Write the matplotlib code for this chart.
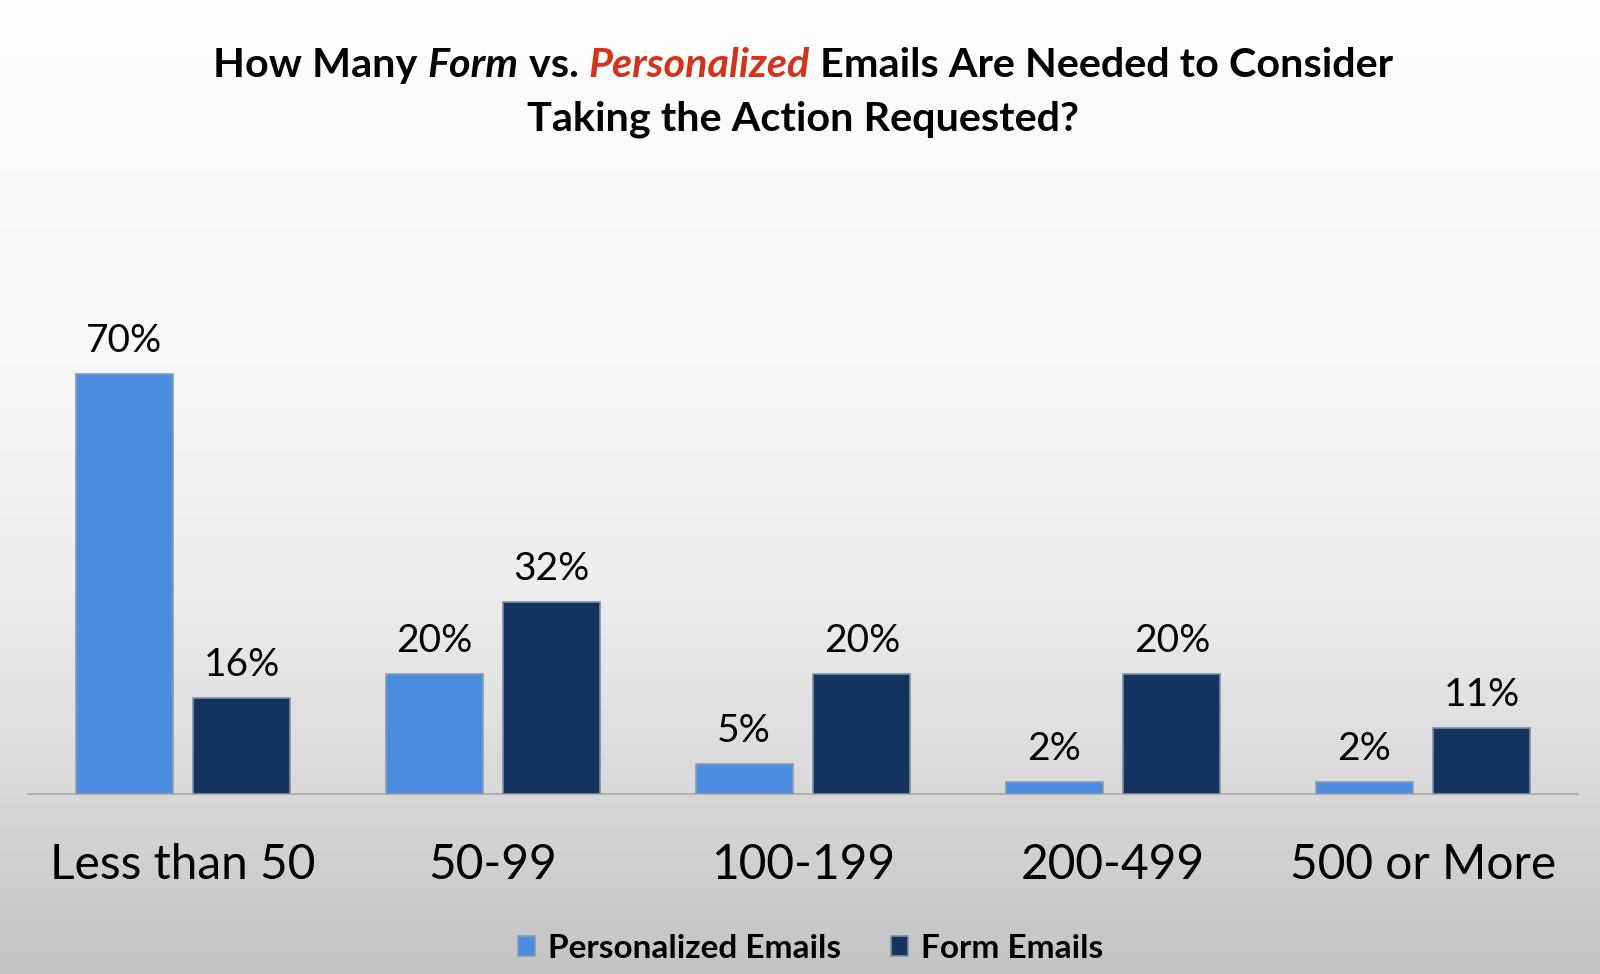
import numpy as np
import matplotlib
matplotlib.use("Agg")
import matplotlib.pyplot as plt
from matplotlib.colors import LinearSegmentedColormap

categories = ["Less than 50", "50-99", "100-199", "200-499", "500 or More"]
personalized = [70, 20, 5, 2, 2]
form = [16, 32, 20, 20, 11]
series_names = ["Personalized Emails", "Form Emails"]

FONT = "Lato"
C_PERS = "#4a8de0"
C_FORM = "#14335f"
C_RED = "#d2331b"

fig = plt.figure(figsize=(16, 9.74), dpi=100)

# background gradient
bg = fig.add_axes([0, 0, 1, 1], zorder=-10)
grad_cmap = LinearSegmentedColormap.from_list(
    "bg", [(0.0, "#c3c3c3"), (0.20, "#dadada"), (0.40, "#ededed"), (0.65, "#f8f8f8"), (1.0, "#fefefe")])
g = np.linspace(0, 1, 256).reshape(-1, 1)
bg.imshow(g, aspect="auto", cmap=grad_cmap, origin="lower", extent=[0, 1, 0, 1])
bg.set_axis_off()

ax = fig.add_axes([28 / 1600, 180 / 974, 1550 / 1600, 600 / 974])
ax.set_facecolor("none")
x = np.arange(len(categories))
w = 0.313
off = 0.19
b1 = ax.bar(x - off, personalized, w, color=C_PERS, edgecolor="#8a9bb0", linewidth=1.2, zorder=3)
b2 = ax.bar(x + off, form, w, color=C_FORM, edgecolor="#7f8ea3", linewidth=1.2, zorder=3)
ax.set_xlim(-0.5, len(categories) - 0.5)
ax.set_ylim(0, 100)
for s in ["top", "right", "left"]:
    ax.spines[s].set_visible(False)
ax.spines["bottom"].set_color("#a8a8a8")
ax.spines["bottom"].set_linewidth(1.2)
ax.set_yticks([])
ax.set_xticks(x)
ax.set_xticklabels(categories, fontsize=34.5, family=FONT)
ax.tick_params(axis="x", length=0, pad=35)

for bars, vals in ((b1, personalized), (b2, form)):
    for r, v in zip(bars, vals):
        ax.annotate(f"{v}%", (r.get_x() + r.get_width() / 2, v), xytext=(0, 11),
                    textcoords="offset points", ha="center", va="bottom",
                    fontsize=28, family=FONT, color="black")

# Title with mixed styles
fig.canvas.draw()
renderer = fig.canvas.get_renderer()
pieces = [("How Many ", "normal", "black"), ("Form", "italic", "black"), (" vs. ", "normal", "black"),
          ("Personalized", "italic", C_RED), (" Emails Are Needed to Consider", "normal", "black")]
tsize = 29.8
texts = []
for s, style, col in pieces:
    t = fig.text(0, 0, s, fontsize=tsize, family=FONT, fontweight="bold", style=style,
                 color=col, ha="left", va="baseline")
    texts.append(t)
widths = [t.get_window_extent(renderer).width for t in texts]
total = sum(widths)
xpos = 800 - total / 2 + 3
y1 = 1 - 77 / 974
for t, wd in zip(texts, widths):
    t.set_position((xpos / 1600, y1))
    xpos += wd
fig.text(0.5 + 3 / 1600, 1 - 131 / 974, "Taking the Action Requested?", fontsize=tsize, family=FONT,
         fontweight="bold", ha="center", va="baseline")

# Legend
leg = fig.legend([b1, b2], series_names, loc="center", bbox_to_anchor=(0.5 + 11 / 1600, 1 - 948 / 974),
                 ncol=2, frameon=False, prop={"family": FONT, "weight": "bold", "size": 24},
                 handlelength=0.5, handleheight=0.55, handletextpad=0.4, columnspacing=1.5)

fig.savefig("out.png", dpi=100)
